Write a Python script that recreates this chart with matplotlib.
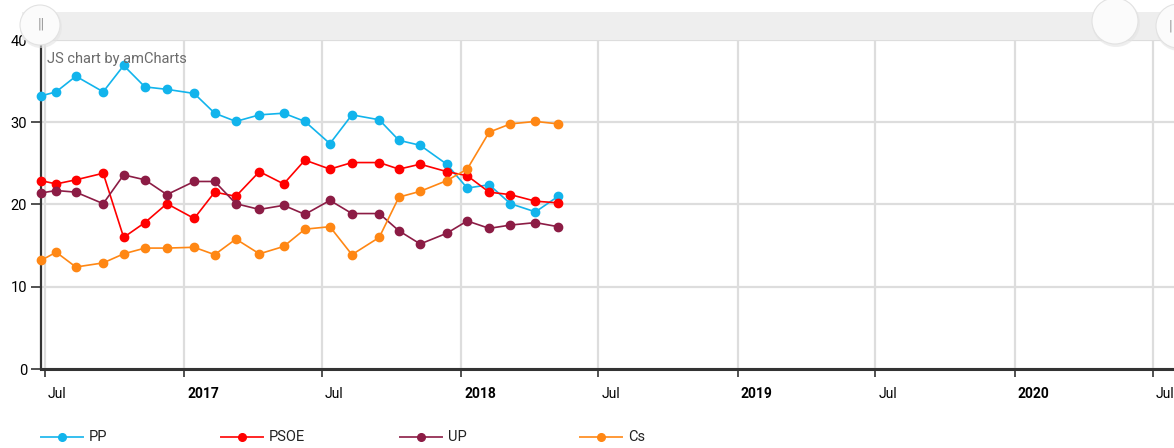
import numpy as np
import matplotlib
matplotlib.use("Agg")
import matplotlib.pyplot as plt
import matplotlib.transforms as mtransforms
from matplotlib.patches import Circle, Rectangle
from matplotlib.lines import Line2D

plt.rcParams['font.family'] = ['Roboto', 'DejaVu Sans']

# poll dates (first one is the 2016 election)
dates = np.array(['2016-06-26', '2016-07-16', '2016-08-11', '2016-09-16', '2016-10-13',
                  '2016-11-10', '2016-12-09', '2017-01-14', '2017-02-10', '2017-03-10',
                  '2017-04-10', '2017-05-12', '2017-06-09', '2017-07-12', '2017-08-10',
                  '2017-09-15', '2017-10-11', '2017-11-08', '2017-12-13', '2018-01-09',
                  '2018-02-07', '2018-03-07', '2018-04-09', '2018-05-09'], dtype='datetime64[D]')

pp = [33.2, 33.7, 35.6, 33.7, 36.9, 34.3, 34.0, 33.5, 31.1, 30.1, 30.9, 31.1,
      30.1, 27.4, 30.9, 30.3, 27.8, 27.2, 24.9, 22.0, 22.4, 20.1, 19.1, 21.0]
psoe = [22.9, 22.5, 23.0, 23.8, 16.0, 17.8, 20.1, 18.3, 21.5, 21.0, 24.0, 22.5,
        25.4, 24.3, 25.1, 25.1, 24.3, 24.9, 24.0, 23.5, 21.5, 21.2, 20.4, 20.2]
up = [21.4, 21.7, 21.5, 20.1, 23.6, 23.0, 21.2, 22.8, 22.8, 20.1, 19.4, 19.9,
      18.8, 20.5, 18.9, 18.9, 16.8, 15.2, 16.5, 18.0, 17.1, 17.5, 17.8, 17.3]
cs = [13.2, 14.2, 12.4, 12.9, 14.0, 14.7, 14.7, 14.8, 13.9, 15.8, 14.0, 14.9,
      17.0, 17.3, 13.9, 16.0, 20.9, 21.6, 22.9, 24.3, 28.8, 29.8, 30.1, 29.8]

series = [('PP', pp, '#12b4ec'), ('PSOE', psoe, '#ff0000'),
          ('UP', up, '#8c1c45'), ('Cs', cs, '#ff8714')]

tick_dates = np.array(['2016-07-01', '2017-01-01', '2017-07-01', '2018-01-01', '2018-07-01',
                       '2019-01-01', '2019-07-01', '2020-01-01', '2020-07-01'], dtype='datetime64[D]')
tick_labels = ['Jul', '2017', 'Jul', '2018', 'Jul', '2019', 'Jul', '2020', 'Jul']

W, H = 1174, 448
fig = plt.figure(figsize=(W / 100, H / 100), dpi=100)
ax = fig.add_axes([41 / W, 1 - 369 / H, (W - 41) / W, 329 / H])

for name, vals, col in series:
    ax.plot(dates, vals, color=col, lw=1.2, marker='o', ms=6, clip_on=False, zorder=3)

ax.set_xlim(np.datetime64('2016-06-26'), np.datetime64('2020-07-29'))
ax.set_ylim(0, 40)
ax.set_yticks([0, 10, 20, 30, 40])
ax.set_xticks(tick_dates)
ax.set_xticklabels(tick_labels)
ax.grid(True, color='#dddddd', lw=1.6)
ax.set_axisbelow(True)
for s in ['top', 'right']:
    ax.spines[s].set_visible(False)
ax.spines['left'].set_color('#333333')
ax.spines['left'].set_linewidth(1.6)
ax.spines['bottom'].set_color('#333333')
ax.spines['bottom'].set_linewidth(2.2)
ax.tick_params(axis='y', length=7, width=1.2, color='#333333', labelsize=10.5, pad=3)
ax.tick_params(axis='x', length=6, width=1.2, color='#333333', labelsize=10, pad=7)

off = mtransforms.ScaledTranslation(3 / 100, 0, fig.dpi_scale_trans)
for lab in ax.get_xticklabels():
    lab.set_horizontalalignment('left')
    lab.set_transform(lab.get_transform() + off)
    if lab.get_text().isdigit():
        lab.set_fontweight('bold')

# overlay in pixel coordinates for scrollbar, credit and legend
ov = fig.add_axes([0, 0, 1, 1], zorder=10)
ov.set_xlim(0, W)
ov.set_ylim(H, 0)
ov.axis('off')
ov.patch.set_alpha(0)

ov.add_patch(Rectangle((22, 12), W - 22, 28, facecolor='#eeeeee', edgecolor='none'))
for cx, cy, r in [(40, 25, 20), (1115, 21, 23), (1178, 26, 22)]:
    ov.add_patch(Circle((cx + 1, cy + 2), r + 1, facecolor='#e4e4e4', edgecolor='none', alpha=0.6))
    ov.add_patch(Circle((cx, cy), r, facecolor='#fbfbfb', edgecolor='#e2e2e2', lw=0.8))
ov.text(41, 25, '||', ha='center', va='center', fontsize=11, color='#a0a0a0')
ov.text(1171, 26, '|', ha='center', va='center', fontsize=11, color='#a0a0a0')

ov.text(47, 59, 'JS chart by amCharts', ha='left', va='center', fontsize=10.5, color='#6b6b6b')

leg_x = [41, 221, 400, 580]
for (name, vals, col), lx in zip(series, leg_x):
    ov.add_line(Line2D([lx, lx + 42], [437, 437], color=col, lw=1.4, alpha=0.85))
    ov.add_line(Line2D([lx + 21], [437], color=col, marker='o', ms=5.5, lw=0))
    ov.text(lx + 48, 437, name, ha='left', va='center', fontsize=10.5, color='#222222')

fig.savefig('out.png', dpi=100)
